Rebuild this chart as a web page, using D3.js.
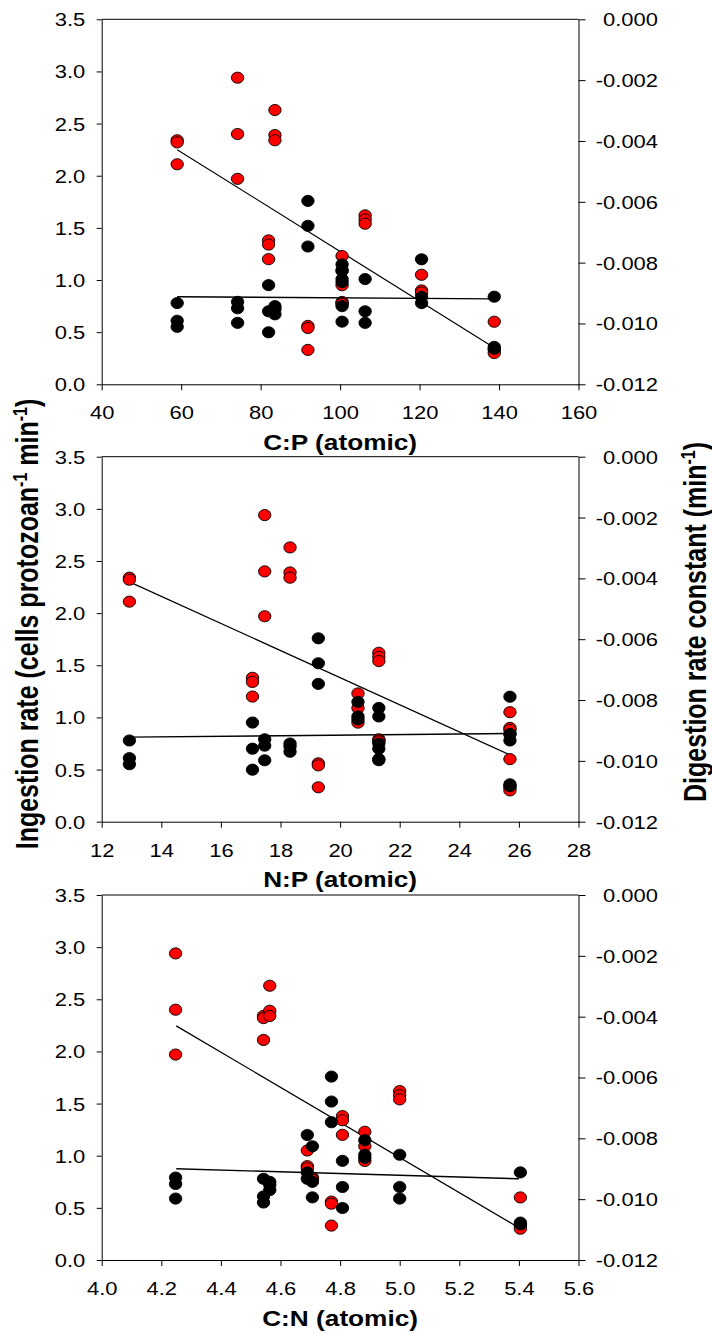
<!DOCTYPE html>
<html>
<head>
<meta charset="utf-8">
<script src="https://cdn.jsdelivr.net/npm/d3@7"></script>
<style>
  body { margin: 0; background: #fff; }
  svg text { font-family: "Liberation Sans", Arial, sans-serif; fill: #000; }
</style>
</head>
<body>
<svg width="712" height="1334"></svg>
<script>
// ten food treatments, three replicates each
// stoichiometry of each treatment (x values of the three panels)
const cpRatio = [59, 74.2, 82, 83.6, 91.9, 100.5, 100.5, 106.3, 120.5, 138.8]
const npRatio = [12.93, 17.47, 17.06, 18.32, 19.27, 20.6, 21.3, 21.3, 25.7, 25.7]
const cnRatio = [4.543, 4.248, 4.808, 4.564, 4.771, 4.883, 4.707, 5.0, 4.69, 5.405]

// ingestion rate (cells protozoan-1 min-1), red, left axis
const ingestion = [
  [2.34, 2.32, 2.11], [2.94, 2.40, 1.97], [1.38, 1.34, 1.20], [2.63, 2.39, 2.34],
  [0.56, 0.54, 0.33], [1.23, 1.09, 0.95], [0.79, 0.78, 0.77], [1.62, 1.58, 1.54],
  [1.05, 0.90, 0.88], [0.60, 0.33, 0.30]
]
// digestion rate constant (min-1), black, right axis
const digestion = [
  [-0.00933, -0.00991, -0.01011], [-0.00929, -0.00950, -0.00998], [-0.00874, -0.00960, -0.01029],
  [-0.00943, -0.00953, -0.00970], [-0.00597, -0.00679, -0.00747], [-0.00806, -0.00854, -0.00864],
  [-0.00826, -0.00943, -0.00994], [-0.00854, -0.00960, -0.00998], [-0.00789, -0.00912, -0.00933],
  [-0.00912, -0.01077, -0.01083]
]

// regression lines as drawn (end points)
const cpIngestFit = [[59, 2.25], [138.8, 0.35]]
const cpDigestFit = [[59, -0.00912], [138.8, -0.00919]]
const npIngestFit = [[12.93, 2.30], [25.7, 0.64]]
const npDigestFit = [[12.93, -0.00922], [25.7, -0.00910]]
const cnIngestFit = [[4.25, 2.245], [5.4, 0.31]]
const cnDigestFit = [[4.25, -0.00900], [5.4, -0.00933]]

// axes
const cpTicks = [40, 60, 80, 100, 120, 140, 160]
const npTicks = [12, 14, 16, 18, 20, 22, 24, 26, 28]
const cnTicks = [4.0, 4.2, 4.4, 4.6, 4.8, 5.0, 5.2, 5.4, 5.6]
const ingestTicks = [0, 0.5, 1.0, 1.5, 2.0, 2.5, 3.0, 3.5]
const digestTicks = [0, -0.002, -0.004, -0.006, -0.008, -0.010, -0.012]
const xTitles = ["C:P (atomic)", "N:P (atomic)", "C:N (atomic)"]

const svg = d3.select("svg")
const X0 = 101.7, X1 = 578.5, PH = 365
const STRETCH = 1.22

const panels = [
  { top: 19.3, xs: cpRatio, domain: [40, 160], ticks: cpTicks, fmt: d3.format("d"), title: xTitles[0], fitI: cpIngestFit, fitD: cpDigestFit },
  { top: 456.7, xs: npRatio, domain: [12, 28], ticks: npTicks, fmt: d3.format("d"), title: xTitles[1], fitI: npIngestFit, fitD: npDigestFit },
  { top: 895, xs: cnRatio, domain: [4.0, 5.6], ticks: cnTicks, fmt: d3.format(".1f"), title: xTitles[2], fitI: cnIngestFit, fitD: cnDigestFit }
]

function styleTicks(ax, anchor, dx, dy, dyEm) {
  ax.attr("font-size", null).attr("font-family", null)
  ax.selectAll(".tick text")
    .attr("x", null).attr("y", null)
    .attr("dy", dyEm)
    .attr("text-anchor", anchor)
    .attr("transform", `translate(${dx},${dy}) scale(${STRETCH},1)`)
    .style("font-size", "18px")
}

panels.forEach(p => {
  const g = svg.append("g")
  const x = d3.scaleLinear().domain(p.domain).range([X0, X1])
  const yL = d3.scaleLinear().domain([0, 3.5]).range([p.top + PH, p.top])
  const yR = d3.scaleLinear().domain([-0.012, 0]).range([p.top + PH, p.top])

  g.append("line")
    .attr("x1", X0).attr("x2", X1)
    .attr("y1", p.top).attr("y2", p.top)
    .attr("stroke", "#000")

  let ax = g.append("g")
    .attr("transform", "translate(0," + (p.top + PH) + ")")
    .call(d3.axisBottom(x).tickValues(p.ticks).tickFormat(p.fmt).tickSize(6).tickSizeOuter(0))
  styleTicks(ax, "middle", 0, 35, 0)

  ax = g.append("g")
    .attr("transform", "translate(" + X0 + ",0)")
    .call(d3.axisLeft(yL).tickValues(ingestTicks).tickFormat(d3.format(".1f")).tickSize(5).tickSizeOuter(0))
  styleTicks(ax, "end", -16.5, 0, "0.36em")

  ax = g.append("g")
    .attr("transform", "translate(" + X1 + ",0)")
    .call(d3.axisRight(yR).tickValues(digestTicks).tickFormat(d => d.toFixed(3)).tickSize(7).tickSizeOuter(0))
  styleTicks(ax, "end", 79.5, 0, "0.36em")

  // x title
  g.append("text")
    .attr("transform", `translate(${(X0 + X1) / 2},${p.top + PH + 65.5}) scale(${STRETCH},1)`)
    .attr("text-anchor", "middle")
    .style("font-size", "21.5px")
    .style("font-weight", "bold")
    .text(p.title)

  // fit lines
  g.append("path")
    .attr("d", d3.line().x(d => x(d[0])).y(d => yL(d[1]))(p.fitI))
    .attr("fill", "none").attr("stroke", "#000").attr("stroke-width", 1.2)
  g.append("path")
    .attr("d", d3.line().x(d => x(d[0])).y(d => yR(d[1]))(p.fitD))
    .attr("fill", "none").attr("stroke", "#000").attr("stroke-width", 1.4)

  const red = [], black = []
  p.xs.forEach((xv, t) => {
    ingestion[t].forEach(v => red.push({ x: xv, v: v }))
    digestion[t].forEach(v => black.push({ x: xv, v: v }))
  })

  g.selectAll(".red")
    .data(red)
    .enter()
    .append("ellipse")
    .attr("cx", d => x(d.x)).attr("cy", d => yL(d.v))
    .attr("rx", 6.2).attr("ry", 5.6)
    .attr("fill", "#ff0000").attr("stroke", "#000").attr("stroke-width", 0.9)

  g.selectAll(".black")
    .data(black)
    .enter()
    .append("ellipse")
    .attr("cx", d => x(d.x)).attr("cy", d => yR(d.v))
    .attr("rx", 6.2).attr("ry", 5.6)
    .attr("fill", "#000").attr("stroke", "#000").attr("stroke-width", 0.9)
})

// y titles
function yTitle(xPos, yPos, parts) {
  const t = svg.append("text")
    .attr("transform", `translate(${xPos},${yPos}) scale(${STRETCH},1) rotate(-90)`)
    .attr("text-anchor", "middle")
    .style("font-size", "25px")
    .style("font-weight", "bold")
  parts.forEach(pt => {
    if (pt.sup) {
      t.append("tspan").attr("dy", -9).style("font-size", "16px").text(pt.s)
    } else {
      t.append("tspan").attr("dy", pt.back ? 9 : 0).text(pt.s)
    }
  })
}

yTitle(38, 624, [
  { s: "Ingestion rate (cells protozoan" }, { s: "-1", sup: true },
  { s: " min", back: true }, { s: "-1", sup: true }, { s: ")", back: true }
])
yTitle(706, 622, [
  { s: "Digestion rate constant (min" }, { s: "-1", sup: true }, { s: ")", back: true }
])
</script>
</body>
</html>
